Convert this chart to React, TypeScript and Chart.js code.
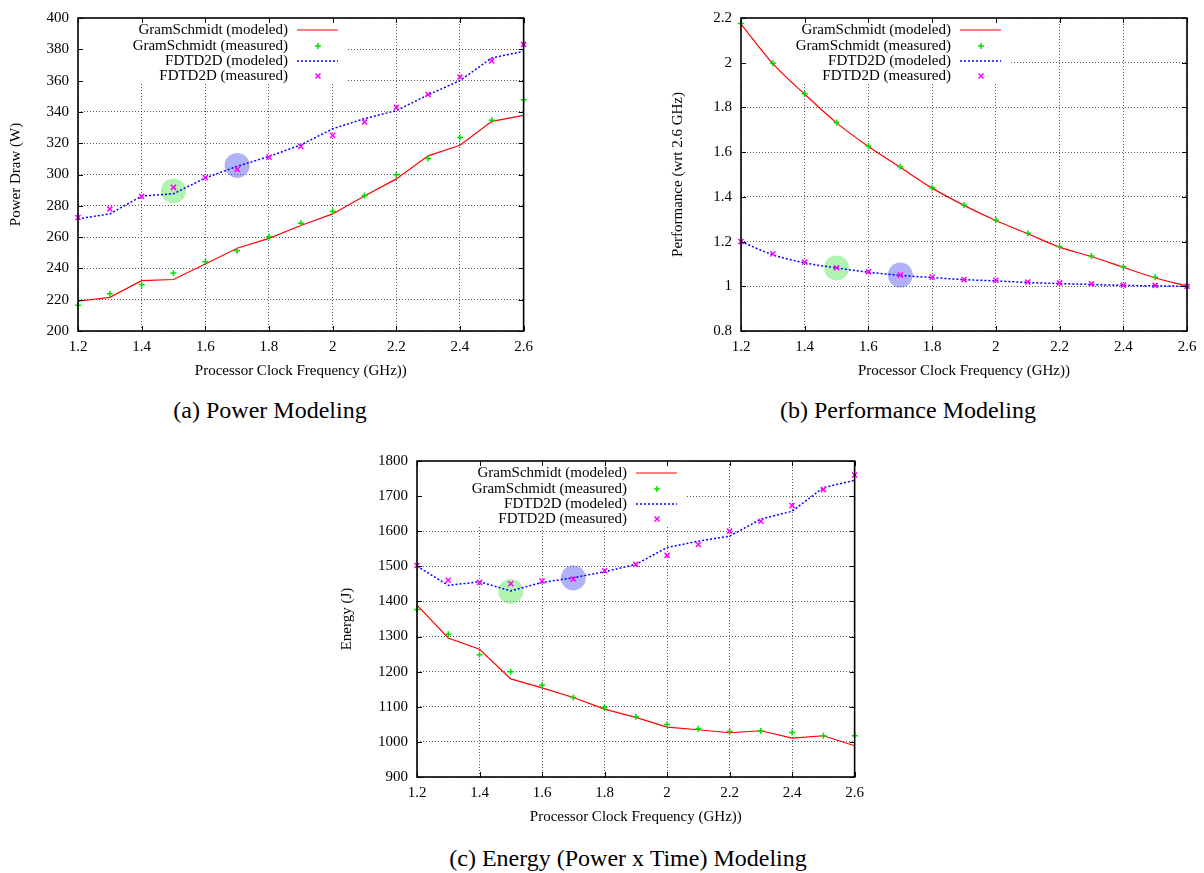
import React, { useEffect, useRef } from 'react';
import { Chart, registerables } from 'chart.js';

Chart.register(...registerables);
Chart.defaults.font.family = '"Liberation Serif", "Times New Roman", serif';
Chart.defaults.font.size = 15;
Chart.defaults.color = '#000';

// ---------------- data ----------------
const FREQ = [1.2, 1.3, 1.4, 1.5, 1.6, 1.7, 1.8, 1.9, 2.0, 2.1, 2.2, 2.3, 2.4, 2.5, 2.6];
const X_TICKS = [1.2, 1.4, 1.6, 1.8, 2.0, 2.2, 2.4, 2.6];
const X_TICK_LABELS = ['1.2', '1.4', '1.6', '1.8', '2', '2.2', '2.4', '2.6'];
const X_TITLE = 'Processor Clock Frequency (GHz))';

const SERIES_LABELS = [
  'GramSchmidt (modeled)',
  'GramSchmidt (measured)',
  'FDTD2D (modeled)',
  'FDTD2D (measured)',
];

const HIGHLIGHT_FREQ = [1.5, 1.7];

// (a) Power
const POWER_TICKS = [200, 220, 240, 260, 280, 300, 320, 340, 360, 380, 400];
const POWER_TICK_LABELS = ['200', '220', '240', '260', '280', '300', '320', '340', '360', '380', '400'];
const POWER_GS_MODEL = [219, 221.5, 232.2, 232.9, 242.8, 252.9, 259.2, 267.4, 274.8, 286.2, 297.2, 311.9, 318.7, 334, 337.8];
const POWER_GS_MEAS = [216.4, 223.8, 229.5, 237.1, 244.3, 251.2, 260.3, 268.9, 276.5, 286.6, 299.9, 310.2, 323.7, 334.7, 347.7];
const POWER_FD_MODEL = [271.7, 274.8, 286.2, 287.7, 297.8, 305.2, 311.5, 318.9, 329.2, 335.7, 340.8, 350.9, 360, 374.5, 378.7];
const POWER_FD_MEAS = [272.5, 278, 286, 291.8, 298, 303.3, 311.1, 318, 325, 333.6, 342.9, 351.1, 362.3, 372.6, 383.1];
const POWER_HIGHLIGHT = [289.5, 305.8];

// (b) Performance
const PERF_TICKS = [0.8, 1.0, 1.2, 1.4, 1.6, 1.8, 2.0, 2.2];
const PERF_TICK_LABELS = ['0.8', '1', '1.2', '1.4', '1.6', '1.8', '2', '2.2'];
const PERF_GS_MODEL = [2.173, 1.996, 1.859, 1.731, 1.625, 1.532, 1.439, 1.362, 1.294, 1.235, 1.175, 1.133, 1.085, 1.038, 1.001];
const PERF_GS_MEAS = [2.175, 1.998, 1.861, 1.733, 1.627, 1.535, 1.441, 1.364, 1.297, 1.237, 1.177, 1.135, 1.087, 1.04, 1.0];
const PERF_FD_MODEL = [1.2, 1.141, 1.105, 1.082, 1.063, 1.049, 1.039, 1.03, 1.024, 1.017, 1.012, 1.008, 1.004, 1.002, 1.0];
const PERF_FD_MEAS = [1.2, 1.145, 1.108, 1.083, 1.065, 1.05, 1.041, 1.03, 1.027, 1.019, 1.015, 1.011, 1.005, 1.004, 1.0];
const PERF_HIGHLIGHT = [1.082, 1.05];

// (c) Energy
const ENERGY_TICKS = [900, 1000, 1100, 1200, 1300, 1400, 1500, 1600, 1700, 1800];
const ENERGY_TICK_LABELS = ['900', '1000', '1100', '1200', '1300', '1400', '1500', '1600', '1700', '1800'];
const ENERGY_GS_MODEL = [1389.5, 1296, 1264, 1179.5, 1154, 1126.4, 1093.3, 1069.6, 1042.1, 1034.5, 1026, 1031.7, 1010.9, 1017.5, 989.1];
const ENERGY_GS_MEAS = [1377, 1306.5, 1248.5, 1199.5, 1161, 1126.5, 1098, 1071.5, 1049.7, 1037.4, 1029.8, 1030.8, 1027, 1017.5, 1017.5];
const ENERGY_FD_MODEL = [1500.6, 1445.7, 1456.1, 1430, 1454.2, 1467.5, 1484.5, 1505.4, 1553.7, 1571.7, 1585.9, 1634.2, 1657, 1724.2, 1745.1];
const ENERGY_FD_MEAS = [1502.5, 1460.5, 1454.2, 1450.5, 1458, 1463.7, 1487.4, 1505.4, 1531, 1562.2, 1600.1, 1628.5, 1673.1, 1718.6, 1760.2];
const ENERGY_HIGHLIGHT = [1428.5, 1467];

// ---------------- styles ----------------
const RED = '#ff0000';
const GREEN = '#00e000';
const BLUE = '#0000ff';
const MAGENTA = '#ff00ff';
const GRID = 'rgba(60,60,60,0.85)';
const HL_COLORS = ['rgba(60,225,60,0.40)', 'rgba(70,70,235,0.42)'];

const pts = (xs: number[], ys: number[]) => xs.map((x, i) => ({ x, y: ys[i] }));

const gnuplotPlugin = {
  id: 'gnuplotFrame',
  beforeDatasetsDraw(chart: any) {
    const { ctx, chartArea: a } = chart;
    ctx.save();
    ctx.fillStyle = '#ffffff';
    ctx.fillRect(a.left, a.top, 269, 66);
    ctx.font = '15px "Liberation Serif", serif';
    ctx.fillStyle = '#000';
    ctx.textAlign = 'right';
    ctx.textBaseline = 'middle';
    const rowY = [12, 28, 43, 58];
    SERIES_LABELS.forEach((label, i) => {
      const y = a.top + rowY[i];
      ctx.fillText(label, a.left + 210, y);
      ctx.save();
      if (i === 0) {
        ctx.strokeStyle = RED;
        ctx.lineWidth = 1.2;
        ctx.beginPath();
        ctx.moveTo(a.left + 219, y);
        ctx.lineTo(a.left + 260, y);
        ctx.stroke();
      } else if (i === 2) {
        ctx.strokeStyle = BLUE;
        ctx.lineWidth = 1.5;
        ctx.setLineDash([2, 2]);
        ctx.beginPath();
        ctx.moveTo(a.left + 219, y);
        ctx.lineTo(a.left + 260, y);
        ctx.stroke();
      } else if (i === 1) {
        const cx = a.left + 240;
        ctx.strokeStyle = GREEN;
        ctx.lineWidth = 1.5;
        ctx.beginPath();
        ctx.moveTo(cx - 3, y);
        ctx.lineTo(cx + 3, y);
        ctx.moveTo(cx, y - 3);
        ctx.lineTo(cx, y + 3);
        ctx.stroke();
      } else {
        const cx = a.left + 240;
        ctx.strokeStyle = MAGENTA;
        ctx.lineWidth = 1.5;
        ctx.beginPath();
        ctx.moveTo(cx - 2.5, y - 2.5);
        ctx.lineTo(cx + 2.5, y + 2.5);
        ctx.moveTo(cx + 2.5, y - 2.5);
        ctx.lineTo(cx - 2.5, y + 2.5);
        ctx.stroke();
      }
      ctx.restore();
    });
    ctx.restore();
  },
  afterDraw(chart: any) {
    const { ctx, chartArea: a, scales } = chart;
    ctx.save();
    ctx.strokeStyle = '#000';
    ctx.lineWidth = 1;
    ctx.beginPath();
    scales.x.ticks.forEach((t: any) => {
      const px = Math.round(scales.x.getPixelForValue(t.value)) + 0.5;
      ctx.moveTo(px, a.bottom);
      ctx.lineTo(px, a.bottom - 5);
      ctx.moveTo(px, a.top);
      ctx.lineTo(px, a.top + 5);
    });
    scales.y.ticks.forEach((t: any) => {
      const py = Math.round(scales.y.getPixelForValue(t.value)) + 0.5;
      ctx.moveTo(a.left, py);
      ctx.lineTo(a.left + 5, py);
      ctx.moveTo(a.right, py);
      ctx.lineTo(a.right - 5, py);
    });
    ctx.stroke();
    ctx.lineWidth = 1.6;
    ctx.strokeRect(a.left, a.top, a.right - a.left, a.bottom - a.top);
    ctx.restore();
  },
};

interface Spec {
  yMin: number;
  yMax: number;
  yTicks: number[];
  yTickLabels: string[];
  yTitle: string;
  gsModel: number[];
  gsMeas: number[];
  fdModel: number[];
  fdMeas: number[];
  highlight: number[];
  smooth: boolean;
  yWidth: number;
  xHeight: number;
  padTop: number;
  padRight: number;
  xTitlePad: number;
}

function makeConfig(s: Spec): any {
  const lineExtra = s.smooth ? { cubicInterpolationMode: 'monotone' } : { tension: 0 };
  return {
    type: 'scatter',
    data: {
      datasets: [
        {
          label: 'highlight',
          data: pts(HIGHLIGHT_FREQ, s.highlight),
          pointRadius: 12.5,
          pointBackgroundColor: HL_COLORS,
          pointBorderWidth: 0,
          pointBorderColor: 'rgba(0,0,0,0)',
          order: 10,
          clip: false,
        },
        {
          label: SERIES_LABELS[0],
          data: pts(FREQ, s.gsModel),
          showLine: true,
          borderColor: RED,
          borderWidth: 1.2,
          pointRadius: 0,
          fill: false,
          order: 3,
          clip: false,
          ...lineExtra,
        },
        {
          label: SERIES_LABELS[1],
          data: pts(FREQ, s.gsMeas),
          pointStyle: 'cross',
          pointRadius: 3,
          pointBorderColor: GREEN,
          pointBorderWidth: 1.5,
          order: 2,
          clip: false,
        },
        {
          label: SERIES_LABELS[2],
          data: pts(FREQ, s.fdModel),
          showLine: true,
          borderColor: BLUE,
          borderWidth: 1.5,
          borderDash: [2, 2],
          pointRadius: 0,
          fill: false,
          order: 3,
          clip: false,
          ...lineExtra,
        },
        {
          label: SERIES_LABELS[3],
          data: pts(FREQ, s.fdMeas),
          pointStyle: 'crossRot',
          pointRadius: 3.6,
          pointBorderColor: MAGENTA,
          pointBorderWidth: 1.5,
          order: 1,
          clip: false,
        },
      ],
    },
    options: {
      responsive: false,
      animation: false,
      events: [],
      layout: { padding: { left: 0, top: s.padTop, right: s.padRight, bottom: 0 } },
      plugins: { legend: { display: false }, tooltip: { enabled: false } },
      scales: {
        x: {
          type: 'linear',
          min: 1.2,
          max: 2.6,
          afterBuildTicks: (sc: any) => {
            sc.ticks = X_TICKS.map((v) => ({ value: v }));
          },
          afterFit: (sc: any) => {
            sc.height = s.xHeight;
          },
          ticks: {
            callback: (_v: any, i: number) => X_TICK_LABELS[i],
            padding: 7,
            maxRotation: 0,
            autoSkip: false,
            font: { size: 15 },
          },
          grid: { color: GRID, lineWidth: 1, drawTicks: false },
          border: { display: false, dash: [1, 2] },
          title: { display: true, text: X_TITLE, font: { size: 15 }, padding: { top: 0, bottom: s.xTitlePad } },
        },
        y: {
          type: 'linear',
          min: s.yMin,
          max: s.yMax,
          afterBuildTicks: (sc: any) => {
            sc.ticks = s.yTicks.map((v) => ({ value: v }));
          },
          afterFit: (sc: any) => {
            sc.width = s.yWidth;
          },
          ticks: {
            callback: (_v: any, i: number) => s.yTickLabels[i],
            padding: 9,
            autoSkip: false,
            font: { size: 15 },
          },
          grid: { color: GRID, lineWidth: 1, drawTicks: false },
          border: { display: false, dash: [1, 2] },
          title: { display: true, text: s.yTitle, font: { size: 15 }, padding: { top: 7, bottom: 0 } },
        },
      },
    },
    plugins: [gnuplotPlugin],
  };
}

function ChartBox(props: { spec: Spec; left: number; top: number; width: number; height: number }) {
  const ref = useRef<HTMLCanvasElement | null>(null);
  useEffect(() => {
    if (!ref.current) return;
    const chart = new Chart(ref.current, makeConfig(props.spec));
    return () => chart.destroy();
  }, []);
  return (
    <canvas
      ref={ref}
      width={props.width}
      height={props.height}
      style={{ position: 'absolute', left: props.left, top: props.top, width: props.width, height: props.height }}
    />
  );
}

const powerSpec: Spec = {
  yMin: 200, yMax: 400, yTicks: POWER_TICKS, yTickLabels: POWER_TICK_LABELS, yTitle: 'Power Draw (W)',
  gsModel: POWER_GS_MODEL, gsMeas: POWER_GS_MEAS, fdModel: POWER_FD_MODEL, fdMeas: POWER_FD_MEAS,
  highlight: POWER_HIGHLIGHT, smooth: false,
  yWidth: 78, xHeight: 64, padTop: 14, padRight: 16, xTitlePad: 15,
};

const perfSpec: Spec = {
  yMin: 0.8, yMax: 2.2, yTicks: PERF_TICKS, yTickLabels: PERF_TICK_LABELS, yTitle: 'Performance (wrt 2.6 GHz)',
  gsModel: PERF_GS_MODEL, gsMeas: PERF_GS_MEAS, fdModel: PERF_FD_MODEL, fdMeas: PERF_FD_MEAS,
  highlight: PERF_HIGHLIGHT, smooth: true,
  yWidth: 79, xHeight: 64, padTop: 14, padRight: 17, xTitlePad: 15,
};

const energySpec: Spec = {
  yMin: 900, yMax: 1800, yTicks: ENERGY_TICKS, yTickLabels: ENERGY_TICK_LABELS, yTitle: 'Energy (J)',
  gsModel: ENERGY_GS_MODEL, gsMeas: ENERGY_GS_MEAS, fdModel: ENERGY_FD_MODEL, fdMeas: ENERGY_FD_MEAS,
  highlight: ENERGY_HIGHLIGHT, smooth: false,
  yWidth: 86, xHeight: 63, padTop: 21, padRight: 16, xTitlePad: 14,
};

const captionStyle = (cx: number, cy: number): React.CSSProperties => ({
  position: 'absolute',
  left: cx,
  top: cy - 12,
  transform: 'translateX(-50%)',
  fontFamily: '"Liberation Serif", "Times New Roman", serif',
  fontSize: 24,
  lineHeight: '24px',
  whiteSpace: 'nowrap',
  color: '#000',
});

export default function App() {
  return (
    <div style={{ position: 'absolute', left: 0, top: 0, width: 1204, height: 873, background: '#fff', overflow: 'hidden' }}>
      <ChartBox spec={powerSpec} left={0} top={0} width={540} height={395} />
      <ChartBox spec={perfSpec} left={662} top={0} width={542} height={395} />
      <ChartBox spec={energySpec} left={331} top={440} width={540} height={400} />
      <div style={captionStyle(270, 410)}>(a) Power Modeling</div>
      <div style={captionStyle(908, 410)}>(b) Performance Modeling</div>
      <div style={captionStyle(628, 858)}>(c) Energy (Power x Time) Modeling</div>
    </div>
  );
}
